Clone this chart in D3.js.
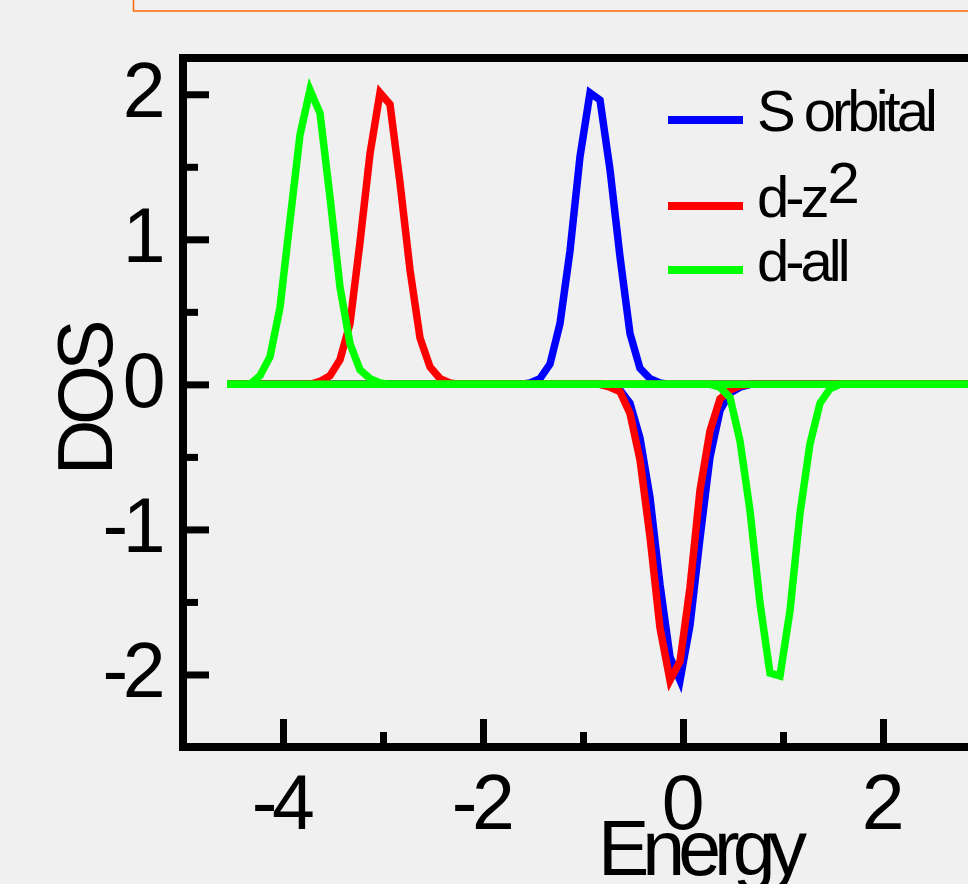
<!DOCTYPE html>
<html>
<head>
<meta charset="utf-8">
<script src="https://cdn.jsdelivr.net/npm/d3@7"></script>
<style>
  html, body { margin: 0; padding: 0; background: #f0f0f0; }
  svg { display: block; }
  text { font-family: "Liberation Sans", Arial, sans-serif; fill: #000; }
</style>
</head>
<body>
<svg id="graph"></svg>
<script>
// DOS curves, [energy, dos] pairs
const sOrbitalUp = [[-4.56,0],[-1.63,0],[-1.53,0.01],[-1.43,0.04],[-1.33,0.14],[-1.23,0.42],[-1.13,0.92],[-1.03,1.57],[-0.93,2.01],[-0.83,1.96],[-0.73,1.48],[-0.63,0.88],[-0.53,0.35],[-0.43,0.11],[-0.33,0.04],[-0.23,0.01],[-0.13,0],[5,0]]
const sOrbitalDown = [[-4.56,0],[-0.83,0],[-0.73,-0.01],[-0.63,-0.04],[-0.53,-0.13],[-0.43,-0.37],[-0.33,-0.78],[-0.23,-1.38],[-0.13,-1.88],[-0.03,-2.04],[0.07,-1.66],[0.17,-1.06],[0.27,-0.5],[0.37,-0.18],[0.47,-0.06],[0.57,-0.02],[0.67,0],[5,0]]
const dz2Up = [[-4.56,0],[-3.73,0],[-3.63,0.02],[-3.53,0.06],[-3.43,0.17],[-3.33,0.42],[-3.23,0.98],[-3.13,1.59],[-3.03,2.01],[-2.93,1.93],[-2.83,1.39],[-2.73,0.79],[-2.63,0.32],[-2.53,0.12],[-2.43,0.04],[-2.33,0.01],[-2.23,0],[5,0]]
const dz2Down = [[-4.56,0],[-0.83,0],[-0.73,-0.02],[-0.63,-0.05],[-0.53,-0.2],[-0.43,-0.52],[-0.33,-1.05],[-0.23,-1.68],[-0.13,-2.04],[-0.03,-1.91],[0.07,-1.4],[0.17,-0.73],[0.27,-0.32],[0.37,-0.1],[0.47,-0.04],[0.57,-0.01],[0.67,0],[5,0]]
const dAllUp = [[-4.56,0],[-4.33,0],[-4.23,0.06],[-4.13,0.19],[-4.03,0.53],[-3.93,1.13],[-3.83,1.72],[-3.73,2.03],[-3.63,1.87],[-3.53,1.29],[-3.43,0.67],[-3.33,0.28],[-3.23,0.1],[-3.13,0.04],[-3.03,0.01],[-2.93,0],[5,0]]
const dAllDown = [[-4.56,0],[0.27,0],[0.37,-0.02],[0.47,-0.09],[0.57,-0.39],[0.67,-0.87],[0.77,-1.51],[0.87,-1.99],[0.97,-2.01],[1.07,-1.56],[1.17,-0.89],[1.27,-0.41],[1.37,-0.13],[1.47,-0.03],[1.57,0],[5,0]]

const seriesNames = ['S orbital', 'd-z', 'd-all']
const seriesColors = ['#0000ff', '#ff0000', '#00ff00']
const xMajorTicks = [-4, -2, 0, 2]
const xMinorTicks = [-3, -1, 1]
const yMajorTicks = [-2, -1, 0, 1, 2]
const yMinorTicks = [-1.5, -0.5, 0.5, 1.5]

const width = 968
const height = 884
const margin = { left: 183, top: 58, bottom: 747, right: 1183 }
const FONT = 77
const LS = -5.5

const svg = d3.select('#graph')
  .attr('width', width)
  .attr('height', height)

// orange frame peeking in at the top
svg.append('rect')
  .attr('x', 133.5).attr('y', -20)
  .attr('width', 1000).attr('height', 31)
  .attr('fill', 'none')
  .attr('stroke', '#ff6a00')
  .attr('stroke-width', 1.5)

const x = d3.scaleLinear().domain([-5, 5]).range([margin.left, margin.right])
const y = d3.scaleLinear().domain([-2.5, 2.25]).range([margin.bottom, margin.top])

const line = d3.line()
  .x(d => x(d[0]))
  .y(d => y(d[1]))

// drawing order: blue, red, green on top
const curves = [
  { data: sOrbitalUp, color: seriesColors[0] },
  { data: sOrbitalDown, color: seriesColors[0] },
  { data: dz2Up, color: seriesColors[1] },
  { data: dz2Down, color: seriesColors[1] },
  { data: dAllUp, color: seriesColors[2] },
  { data: dAllDown, color: seriesColors[2] }
]

svg.append('g')
  .selectAll('path')
  .data(curves)
  .enter()
    .append('path')
    .attr('d', d => line(d.data))
    .attr('fill', 'none')
    .attr('stroke', d => d.color)
    .attr('stroke-width', 7.5)
    .attr('stroke-linejoin', 'miter')

// ticks, pointing inwards
function styleTicks(g, w) {
  g.select('.domain').remove()
  g.selectAll('.tick line').attr('stroke', '#000').attr('stroke-width', w)
}

const plainLabel = d => String(d)

svg.append('g')
  .attr('transform', `translate(0, ${margin.bottom})`)
  .call(d3.axisBottom(x).tickValues(xMinorTicks).tickSize(-15).tickFormat(''))
  .call(g => styleTicks(g, 7))

const xAxis = svg.append('g')
  .attr('transform', `translate(0, ${margin.bottom})`)
  .call(d3.axisBottom(x).tickValues(xMajorTicks).tickSize(-28).tickFormat(plainLabel))
  .call(g => styleTicks(g, 7))

xAxis.selectAll('.tick text')
  .attr('y', 82)
  .attr('dy', 0)
  .attr('dx', -3)
  .attr('font-size', FONT)
  .attr('letter-spacing', LS)
  .attr('font-family', '"Liberation Sans", Arial, sans-serif')
  .attr('fill', '#000')

svg.append('g')
  .attr('transform', `translate(${margin.left}, 0)`)
  .call(d3.axisLeft(y).tickValues(yMinorTicks).tickSize(-15).tickFormat(''))
  .call(g => styleTicks(g, 7))

const yAxis = svg.append('g')
  .attr('transform', `translate(${margin.left}, 0)`)
  .call(d3.axisLeft(y).tickValues(yMajorTicks).tickSize(-26).tickFormat(plainLabel))
  .call(g => styleTicks(g, 7))

yAxis.selectAll('.tick text')
  .attr('x', -23)
  .attr('dy', 22)
  .attr('font-size', FONT)
  .attr('letter-spacing', LS)
  .attr('font-family', '"Liberation Sans", Arial, sans-serif')
  .attr('fill', '#000')

// plot frame
svg.append('rect')
  .attr('x', margin.left).attr('y', margin.top)
  .attr('width', margin.right - margin.left)
  .attr('height', margin.bottom - margin.top)
  .attr('fill', 'none')
  .attr('stroke', '#000')
  .attr('stroke-width', 8)

// axis titles
svg.append('text')
  .attr('x', 699).attr('y', 875)
  .attr('text-anchor', 'middle')
  .attr('font-size', FONT)
  .attr('letter-spacing', -7)
  .text('Energy')

svg.append('text')
  .attr('transform', 'translate(112, 400) rotate(-90)')
  .attr('text-anchor', 'middle')
  .attr('font-size', FONT)
  .attr('letter-spacing', LS)
  .text('DOS')

// legend
const legendY = [120, 206, 270]
const legend = svg.append('g')
  .selectAll('g')
  .data(seriesNames)
  .enter()
    .append('g')
    .attr('transform', (d, i) => `translate(0, ${legendY[i]})`)

legend.append('line')
  .attr('x1', 668).attr('x2', 743)
  .attr('stroke', (d, i) => seriesColors[i])
  .attr('stroke-width', 8)

const legendText = legend.append('text')
  .attr('x', 757)
  .attr('y', 11)
  .attr('font-size', 58)
  .attr('letter-spacing', -4)

legendText.append('tspan').text(d => d)
legendText.filter((d, i) => i === 1)
  .append('tspan')
  .attr('dy', -14)
  .attr('dx', 2)
  .text('2')
</script>
</body>
</html>
